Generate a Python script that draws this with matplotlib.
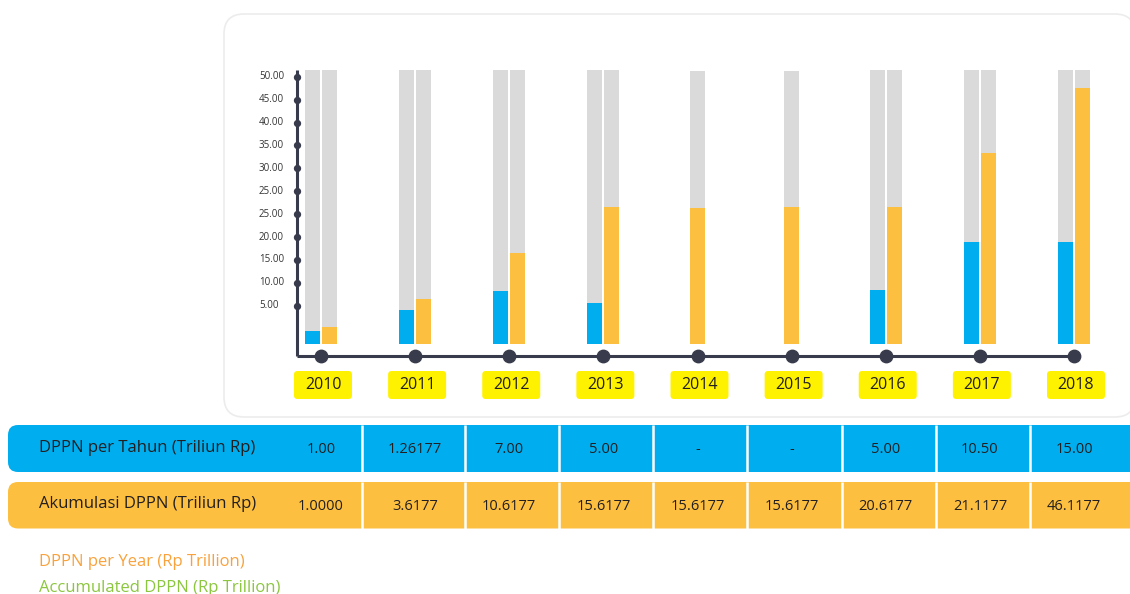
import matplotlib
matplotlib.use("Agg")
import matplotlib.pyplot as plt
import matplotlib.transforms as mtransforms
from matplotlib.patches import FancyBboxPatch

plt.rcParams['font.family'] = ['Open Sans', 'DejaVu Sans']

years = ['2010', '2011', '2012', '2013', '2014', '2015', '2016', '2017', '2018']
# bar heights as drawn in the picture (chart units, bar baseline = 0)
blue_bar = [2.7, 7.3, 11.5, 8.8, 0, 0, 11.7, 22.2, 22.2]
orange_bar = [3.6, 9.7, 19.8, 29.8, 29.6, 29.8, 29.8, 41.6, 55.8]
has_blue = [True, True, True, True, False, False, True, True, True]
track_top = 59.7
tick_labels = ['5.00', '10.00', '15.00', '20.00', '25.00', '25.00',
               '30.00', '35.00', '40.00', '45.00', '50.00']
per_year = ['1.00', '1.26177', '7.00', '5.00', '-', '-', '5.00', '10.50', '15.00']
accum = ['1.0000', '3.6177', '10.6177', '15.6177', '15.6177', '15.6177',
         '20.6177', '21.1177', '46.1177']
row_labels = ['DPPN per Tahun (Triliun Rp)', 'Akumulasi DPPN (Triliun Rp)']
notes = ['DPPN per Year (Rp Trillion)', 'Accumulated DPPN (Rp Trillion)']

BLUE = '#00aeef'
ORANGE = '#fdbf40'
GRAY = '#dadada'
YELLOW = '#fff200'
DARK = '#383b4b'
TXT = '#231f20'

W, H = 1130, 594
PX, PY = 94.125, 4.58          # pixels per x unit / y unit
X0, Y0 = 321, 343.5            # pixel of first category / bar baseline

fig = plt.figure(figsize=(W / 100, H / 100), dpi=100)
bg = fig.add_axes([0, 0, 1, 1])
bg.set_xlim(0, W)
bg.set_ylim(H, 0)
bg.axis('off')

# card behind the chart
bg.add_patch(FancyBboxPatch((224, 14), 911, 403, boxstyle='round,pad=0,rounding_size=20',
                            fc='white', ec='#ececec', lw=1.2))

left_px, right_px, top_px, bot_px = 297, 1121, 60, 365
xmin = (left_px - X0) / PX
xmax = (right_px - X0) / PX
ymax = (Y0 - top_px) / PY
ymin = (Y0 - bot_px) / PY
ax = fig.add_axes([left_px / W, (H - bot_px) / H, (right_px - left_px) / W, (bot_px - top_px) / H])
ax.set_xlim(xmin, xmax)
ax.set_ylim(ymin, ymax)
ax.axis('off')

bw = 15 / PX
off = 8.5 / PX
for i in range(len(years)):
    if has_blue[i]:
        ax.bar([i - off, i + off], [track_top, track_top], width=bw, color=GRAY, zorder=1)
        ax.bar(i - off, blue_bar[i], width=bw, color=BLUE, zorder=2)
        ax.bar(i + off, orange_bar[i], width=bw, color=ORANGE, zorder=2)
    else:
        ax.bar(i, track_top - 0.2, width=bw, color=GRAY, zorder=1)
        ax.bar(i, orange_bar[i], width=bw, color=ORANGE, zorder=2)

axis_y = (Y0 - 356) / PY
ticks = [8.25 + 5 * k for k in range(len(tick_labels))]
ax.plot([xmin, xmin], [axis_y, track_top], color=DARK, lw=2.2, solid_capstyle='butt',
        clip_on=False, zorder=3)
ax.plot([xmin, len(years) - 1], [axis_y, axis_y], color=DARK, lw=2.2, solid_capstyle='butt',
        clip_on=False, zorder=3)
ax.scatter([xmin] * len(ticks), ticks, s=18, color=DARK, zorder=4, clip_on=False)
ax.scatter(range(len(years)), [axis_y] * len(years), s=80, color=DARK, zorder=4, clip_on=False)
for t, lab in zip(ticks, tick_labels):
    ax.text(xmin - 38 / PX, t, lab, ha='left', va='center', fontsize=7, color='#333333')

# yellow year boxes
box_w, box_h = 58 / PX, 28 / PY
yc = (Y0 - 385) / PY
for i, yr in enumerate(years):
    ax.add_patch(FancyBboxPatch((i - box_w / 2 + 2 / PX, yc - box_h / 2), box_w, box_h,
                                boxstyle='round,pad=0,rounding_size=%f' % (3.5 / PX),
                                mutation_aspect=PX / PY, fc=YELLOW, ec='none',
                                clip_on=False, zorder=3))
    ax.text(i + 2 / PX, yc, yr, ha='center', va='center', fontsize=11.5, color=TXT, zorder=4)

# table rows
rows = [(425, 47, BLUE, per_year), (482, 46.5, ORANGE, accum)]
mix = mtransforms.blended_transform_factory(ax.transData, bg.transData)
for (top, hgt, col, vals), lab in zip(rows, row_labels):
    bg.add_patch(FancyBboxPatch((8, top), 1200, hgt, boxstyle='round,pad=0,rounding_size=10',
                                fc=col, ec='none'))
    cy = top + hgt / 2
    bg.text(39, cy - 1, lab, ha='left', va='center', fontsize=12, color=TXT)
    for i, v in enumerate(vals):
        ax.text(i, cy + 1, v, transform=mix, ha='center', va='center', fontsize=10.5,
                color=TXT, clip_on=False)
    for i in range(len(years) - 1):
        sx = i + (0.44 if i == 0 else 0.53)
        ax.plot([sx, sx], [top, top + hgt], transform=mix, color='white', lw=1.8,
                solid_capstyle='butt', clip_on=False)

bg.text(39, 561.5, notes[0], ha='left', va='center', fontsize=12, color='#f9a23c')
bg.text(39, 587.5, notes[1], ha='left', va='center', fontsize=12, color='#8cc63f')

fig.savefig('out.png', dpi=100)
